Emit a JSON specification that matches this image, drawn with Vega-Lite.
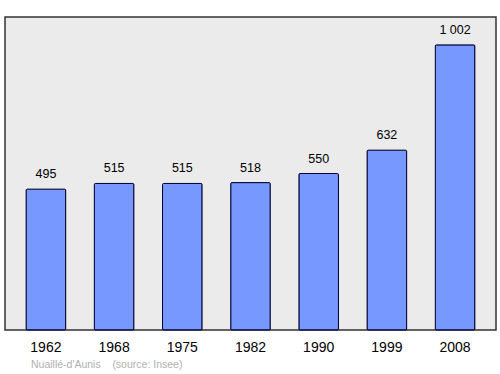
{
  "$schema": "https://vega.github.io/schema/vega-lite/v6.json",
  "autosize": "none",
  "width": 491,
  "height": 313,
  "padding": {"left": 5, "top": 17, "right": 4, "bottom": 44},
  "background": "white",
  "config": {
    "font": "Liberation Sans",
    "view": {"fill": "#ebebeb", "stroke": "#333333", "strokeWidth": 1.5}
  },
  "title": {
    "text": "Nuaillé-d'Aunis\u00a0\u00a0\u00a0\u00a0(source: Insee)",
    "orient": "bottom",
    "anchor": "start",
    "dx": 26,
    "offset": 6,
    "fontSize": 10.5,
    "fontWeight": "normal",
    "color": "#b0b0b0",
    "font": "Liberation Sans"
  },
  "data": {
    "values": [
      {"year": "1962", "pop": 495, "label": "495"},
      {"year": "1968", "pop": 515, "label": "515"},
      {"year": "1975", "pop": 515, "label": "515"},
      {"year": "1982", "pop": 518, "label": "518"},
      {"year": "1990", "pop": 550, "label": "550"},
      {"year": "1999", "pop": 632, "label": "632"},
      {"year": "2008", "pop": 1002, "label": "1 002"}
    ]
  },
  "encoding": {
    "x": {
      "field": "year",
      "type": "nominal",
      "sort": null,
      "scale": {"paddingInner": 0.42, "paddingOuter": 0.31},
      "axis": {
        "title": null,
        "domain": false,
        "ticks": false,
        "labelAngle": 0,
        "labelFontSize": 14,
        "labelColor": "#000000",
        "labelPadding": 10
      }
    },
    "y": {
      "field": "pop",
      "type": "quantitative",
      "scale": {"domain": [0, 1100], "nice": false},
      "axis": null
    }
  },
  "layer": [
    {
      "mark": {"type": "bar", "color": "#7799ff", "stroke": "#000033", "strokeWidth": 1, "cornerRadius": 1}
    },
    {
      "mark": {"type": "text", "dy": -15, "fontSize": 12.5, "color": "#000000"},
      "encoding": {"text": {"field": "label"}}
    }
  ]
}
